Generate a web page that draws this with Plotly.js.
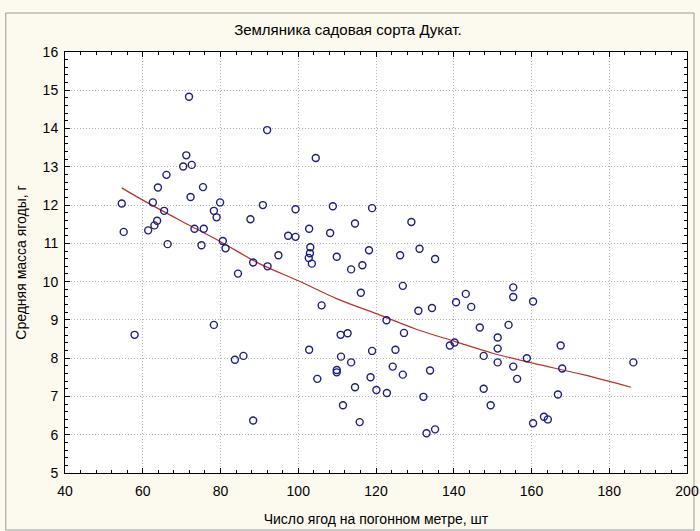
<!DOCTYPE html>
<html>
<head>
<meta charset="utf-8">
<script src="https://cdn.plot.ly/plotly-3.0.1.min.js"></script>
<style>
  html, body { margin: 0; padding: 0; background: #fcf9ef; }
  #chart { width: 700px; height: 531px; }
</style>
</head>
<body>
<div id="chart"></div>
<script>
// Число ягод на погонном метре, шт
const berriesPerMeter = [
  54.6, 55.1, 71.9, 71.2, 70.4, 72.6, 66.1, 63.9, 75.5, 72.3,
  62.6, 65.5, 78.3, 79.0, 79.9, 63.7, 63.0, 61.4, 73.3, 75.7,
  66.4, 75.1, 57.9, 78.3, 92.0, 104.5, 90.9, 99.3, 108.9, 119.0,
  87.7, 114.6, 97.4, 99.3, 102.8, 108.2, 103.1, 103.0, 94.9, 109.9,
  118.2, 80.6, 81.3, 102.7, 103.5, 88.4, 92.1, 84.5, 116.5, 113.6,
  116.1, 106.0, 122.7, 110.9, 112.7, 102.8, 119.0, 111.0, 113.6, 83.7,
  85.9, 109.9, 109.9, 104.9, 118.6, 114.6, 120.1, 122.8, 111.5, 88.4,
  115.8, 129.1, 131.2, 126.2, 135.2, 126.9, 140.6, 143.1, 144.5, 155.3,
  155.3, 160.4, 130.9, 134.4, 127.2, 146.7, 154.1, 151.3, 140.2, 139.0,
  125.0, 151.3, 147.7, 158.8, 151.3, 124.3, 133.9, 155.3, 126.9, 156.3,
  147.7, 132.2, 149.5, 160.4, 133.0, 135.2, 167.5, 167.9, 166.8, 163.2,
  164.2, 186.2
];
// Средняя масса ягоды, г
const berryMass = [
  12.04, 11.30, 14.83, 13.30, 13.01, 13.05, 12.79, 12.46, 12.47, 12.21,
  12.07, 11.85, 11.85, 11.68, 12.07, 11.59, 11.47, 11.34, 11.38, 11.38,
  10.98, 10.95, 8.61, 8.87, 13.96, 13.23, 12.00, 11.89, 11.97, 11.92,
  11.63, 11.52, 11.20, 11.17, 11.38, 11.27, 10.90, 10.74, 10.69, 10.65,
  10.82, 11.06, 10.87, 10.62, 10.47, 10.50, 10.40, 10.21, 10.43, 10.32,
  9.71, 9.38, 8.99, 8.61, 8.65, 8.22, 8.19, 8.04, 7.89, 7.96,
  8.06, 7.69, 7.63, 7.46, 7.50, 7.24, 7.17, 7.09, 6.77, 6.37,
  6.33, 11.56, 10.86, 10.69, 10.59, 9.89, 9.46, 9.68, 9.34, 9.85,
  9.60, 9.48, 9.24, 9.31, 8.66, 8.80, 8.87, 8.54, 8.41, 8.33,
  8.22, 8.25, 8.06, 8.00, 7.89, 7.78, 7.68, 7.78, 7.57, 7.46,
  7.20, 6.99, 6.77, 6.30, 6.04, 6.14, 8.33, 7.73, 7.05, 6.47,
  6.40, 7.89
];
// Fitted curve
const trendX = [54.6, 60, 70, 79.9, 90, 100.3, 110, 121.2, 130, 140.2, 150, 160.3, 173.3, 185.6];
const trendY = [12.45, 12.13, 11.58, 11.05, 10.47, 10.01, 9.55, 9.12, 8.77, 8.44, 8.13, 7.87, 7.57, 7.24];

const xTicks = [40, 60, 80, 100, 120, 140, 160, 180, 200];
const yTicks = [5, 6, 7, 8, 9, 10, 11, 12, 13, 14, 15, 16];

const font = 'Liberation Sans, Arial, sans-serif';

const traces = [
  {
    x: trendX, y: trendY, type: 'scatter', mode: 'lines',
    line: { color: '#b3342c', width: 1.2, shape: 'spline' },
    hoverinfo: 'skip'
  },
  {
    x: berriesPerMeter, y: berryMass, type: 'scatter', mode: 'markers',
    marker: { symbol: 'circle-open', size: 7, color: '#1d1d7d', line: { width: 1.4, color: '#1d1d7d' } }
  }
];

const axisCommon = {
  showline: true, linecolor: '#000', linewidth: 1, mirror: 'ticks',
  ticks: 'inside', ticklen: 5, tickwidth: 1, tickcolor: '#000',
  showgrid: true, gridcolor: '#b4b4b4', gridwidth: 1, griddash: '1px,2px',
  zeroline: false,
  tickfont: { family: font, size: 14, color: '#000' }
};

const layout = {
  width: 700, height: 531,
  paper_bgcolor: '#fcf9ef', plot_bgcolor: '#ffffff',
  margin: { l: 65, r: 13, t: 52, b: 58 },
  showlegend: false,
  font: { family: font, color: '#000' },
  title: {
    text: 'Земляника садовая сорта Дукат.',
    font: { family: font, size: 15, color: '#000' },
    xref: 'container', x: 0.497, xanchor: 'center',
    yref: 'container', y: 0.944, yanchor: 'middle'
  },
  xaxis: Object.assign({}, axisCommon, {
    range: [40, 200], tickmode: 'array', tickvals: xTicks, ticktext: xTicks.map(String),
    ticklabelstandoff: 5,
    minor: { ticks: 'inside', dtick: 4, tick0: 40, ticklen: 3, tickcolor: '#000', showgrid: false },
    title: { text: 'Число ягод на погонном метре, шт', font: { family: font, size: 14, color: '#000' }, standoff: 16 }
  }),
  yaxis: Object.assign({}, axisCommon, {
    range: [5, 16], tickmode: 'array', tickvals: yTicks, ticktext: yTicks.map(String),
    ticklabelstandoff: 3,
    minor: { ticks: 'inside', dtick: 0.2, tick0: 5, ticklen: 3, tickcolor: '#000', showgrid: false },
    title: { text: 'Средняя масса ягоды, г', font: { family: font, size: 14, color: '#000' }, standoff: 12 }
  }),
  shapes: [{
    type: 'rect', xref: 'paper', yref: 'paper',
    x0: -0.0952, x1: 1.0113, y0: -0.1354, y1: 1.0926,
    line: { color: '#9a9a9a', width: 1 }, fillcolor: 'rgba(0,0,0,0)', layer: 'below'
  }]
};

Plotly.newPlot('chart', traces, layout, { displayModeBar: false, staticPlot: true });
</script>
</body>
</html>
